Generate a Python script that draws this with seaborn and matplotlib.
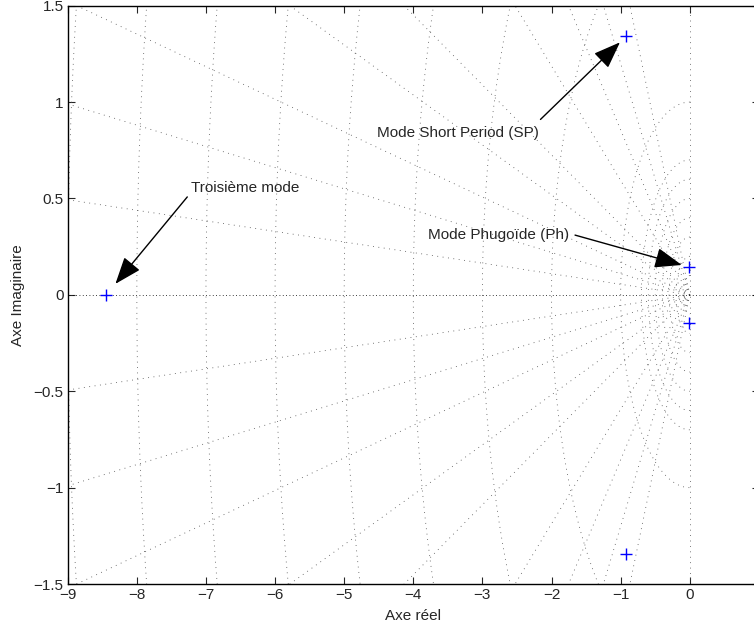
import numpy as np
import matplotlib
matplotlib.use('Agg')
import matplotlib.pyplot as plt
import seaborn as sns

# poles of the system
pole_re = [-8.45, -0.92, -0.92, -0.005, -0.005]
pole_im = [0.0, 1.345, -1.345, 0.146, -0.146]

# s-plane grid (sgrid): damping ratios and natural frequencies
zeta_lines = [0.9985, 0.994, 0.986, 0.968, 0.94, 0.86, 0.76, 0.64, 0.5]
wn_circles = [0.1, 0.2, 0.3, 0.4, 0.5, 0.6, 0.7, 1, 2, 3, 4, 5, 6, 7, 8, 9]

x_ticks = [-9, -8, -7, -6, -5, -4, -3, -2, -1, 0, 1]
x_ticklabels = ['\u22129', '\u22128', '\u22127', '\u22126', '\u22125', '\u22124',
                '\u22123', '\u22122', '\u22121', '0', '']
y_ticks = [-1.5, -1, -0.5, 0, 0.5, 1, 1.5]
y_ticklabels = ['\u22121.5', '\u22121', '\u22120.5', '0', '0.5', '1', '1.5']
x_label = 'Axe réel'
y_label = 'Axe Imaginaire'

# annotations: (text, text pos, arrow tail, arrow tip)
notes = [
    ('Mode Short Period (SP)', (-3.36, 0.84), (-2.16, 0.91), (-1.01, 1.31)),
    ('Troisième mode', (-6.43, 0.554), (-7.27, 0.508), (-8.31, 0.057)),
    ('Mode Phugoïde (Ph)', (-2.77, 0.31), (-1.66, 0.31), (-0.116, 0.155)),
]

sns.set_style('ticks')
plt.rcParams['font.family'] = ['Liberation Sans', 'DejaVu Sans']

fig = plt.figure(figsize=(7.54, 6.32), dpi=100)
ax = fig.add_axes([0.0898, 0.0759, 0.9167, 0.9151])

grid_kw = dict(color='0.3', lw=0.6, ls=(0, (1, 5.5)), zorder=1)

# damping lines
for z in zeta_lines:
    r = np.array([0, 20])
    ax.plot(-r * z, r * np.sqrt(1 - z**2), **grid_kw)
    ax.plot(-r * z, -r * np.sqrt(1 - z**2), **grid_kw)

# natural frequency circles
th = np.linspace(np.pi / 2, 3 * np.pi / 2, 400)
for w in wn_circles:
    ax.plot(w * np.cos(th), w * np.sin(th), **grid_kw)

# axis lines of pzmap
ax.plot([-20, 20], [0, 0], color='k', lw=0.6, ls=(0, (1, 3)), zorder=1)
ax.plot([0, 0], [-20, 20], color='0.3', lw=0.6, ls=(0, (1, 5.5)), zorder=1)

sns.scatterplot(x=pole_re, y=pole_im, marker='+', s=70, color='#0000ff',
                linewidth=1.0, ax=ax, zorder=3)

for txt, tpos, tail, tip in notes:
    ax.text(tpos[0], tpos[1], txt, ha='center', va='center', fontsize=11)
    ax.annotate('', xy=tip, xytext=tail,
                arrowprops=dict(arrowstyle='-|>,head_length=1.2,head_width=0.45',
                                color='k', lw=1.0, shrinkA=0, shrinkB=0,
                                mutation_scale=14))

ax.set_xlim(-9, 1)
ax.set_ylim(-1.5, 1.5)
ax.set_xticks(x_ticks)
ax.set_yticks(y_ticks)
ax.set_xticklabels(x_ticklabels)
ax.set_yticklabels(y_ticklabels)
ax.tick_params(direction='in', length=5, width=0.8, labelsize=11,
               top=True, right=True, pad=3)
for s in ax.spines.values():
    s.set_visible(True)
    s.set_linewidth(1.0)
    s.set_color('k')
ax.set_xlabel(x_label, fontsize=11, labelpad=5)
ax.set_ylabel(y_label, fontsize=11, labelpad=6)

fig.savefig('out.png', dpi=100)
